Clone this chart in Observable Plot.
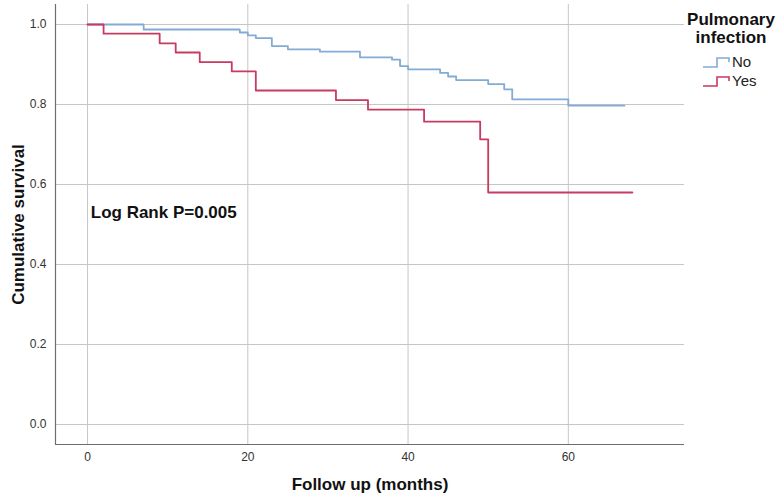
<!DOCTYPE html>
<html>
<head>
<meta charset="utf-8">
<script src="https://cdn.jsdelivr.net/npm/d3@7"></script>
<script src="https://cdn.jsdelivr.net/npm/@observablehq/plot@0.6"></script>
<style>
  html, body { margin: 0; padding: 0; background: #fff; }
  #wrap { position: relative; width: 777px; height: 501px; font-family: "Liberation Sans", Arial, sans-serif; }
  #legend { position: absolute; left: 0; top: 0; }
</style>
</head>
<body>
<div id="wrap"></div>
<script>
// Kaplan-Meier steps (months, cumulative survival)
const monthsNo = [0, 7, 19, 20, 21, 23, 25, 29, 34, 38, 39, 40, 44, 45, 46, 50, 52, 53, 60, 67];
const survNo   = [1, 0.9875, 0.98, 0.973, 0.966, 0.946, 0.938, 0.932, 0.918, 0.912, 0.896, 0.888, 0.879, 0.870, 0.861, 0.851, 0.838, 0.813, 0.797, 0.797];
const monthsYes = [0, 2, 9, 11, 14, 18, 21, 31, 35, 42, 49, 50, 68];
const survYes   = [1, 0.977, 0.953, 0.930, 0.906, 0.883, 0.835, 0.811, 0.787, 0.757, 0.713, 0.580, 0.580];
const groups = ["No", "Yes"];
const groupColors = ["#84abd3", "#c73a62"];
const xTicks = [0, 20, 40, 60];
const yTicks = [0, 0.2, 0.4, 0.6, 0.8, 1.0];
const xTitle = "Follow up (months)";
const yTitle = "Cumulative survival";
const legendTitle = ["Pulmonary", "infection"];
const annotation = "Log Rank P=0.005";

const data = [
  ...monthsNo.map((m, i) => ({group: "No", month: m, surv: survNo[i]})),
  ...monthsYes.map((m, i) => ({group: "Yes", month: m, surv: survYes[i]}))
];

const xDom = [-4, 74.5];
const yDom = [-0.05, 1.05];

const chart = Plot.plot({
  width: 777,
  height: 501,
  marginLeft: 55,
  marginRight: 93,
  marginTop: 4,
  marginBottom: 57,
  style: {fontFamily: "'Liberation Sans', Arial, sans-serif", fontSize: "12px", background: "#fff"},
  x: {domain: xDom, ticks: xTicks, label: null},
  y: {domain: yDom, ticks: yTicks, label: null},
  color: {domain: groups, range: groupColors},
  marks: [
    Plot.ruleX(xTicks, {y1: yDom[0], y2: yDom[1], stroke: "#c6c6c6", strokeWidth: 1}),
    Plot.ruleY(yTicks, {x1: xDom[0], x2: xDom[1], stroke: "#c6c6c6", strokeWidth: 1}),
    Plot.ruleX([xDom[0]], {y1: yDom[0], y2: yDom[1], stroke: "#6e6e6e", strokeWidth: 1.2}),
    Plot.ruleY([yDom[0]], {x1: xDom[0], x2: xDom[1], stroke: "#6e6e6e", strokeWidth: 1.2}),
    Plot.axisX({ticks: xTicks, tickSize: 0, tickPadding: 8, label: null, color: "#333", fontSize: 12}),
    Plot.axisY({ticks: yTicks, tickSize: 0, tickPadding: 9, tickFormat: d3.format(".1f"), label: null, color: "#333", fontSize: 12}),
    Plot.line(data, {x: "month", y: "surv", z: "group", stroke: "group", curve: "step-after", strokeWidth: 1.8}),
    Plot.text([annotation], {x: 0.4, y: 0.53, text: d => d, textAnchor: "start", fontWeight: "bold", fontSize: 17, fill: "#111"}),
    Plot.text([xTitle], {frameAnchor: "bottom", dy: 45, text: d => d, textAnchor: "middle", fontWeight: "bold", fontSize: 17, fill: "#111"}),
    Plot.text([yTitle], {frameAnchor: "left", dx: -37, rotate: -90, text: d => d, textAnchor: "middle", fontWeight: "bold", fontSize: 17, fill: "#111"})
  ]
});

const wrap = document.getElementById("wrap");
wrap.appendChild(chart);

// Legend (drawn to the right of the plot area)
const ns = "http://www.w3.org/2000/svg";
const lg = document.createElementNS(ns, "svg");
lg.setAttribute("id", "legend");
lg.setAttribute("width", 777);
lg.setAttribute("height", 501);
lg.style.pointerEvents = "none";
legendTitle.forEach((t, i) => {
  const el = document.createElementNS(ns, "text");
  el.setAttribute("x", 731);
  el.setAttribute("y", 25 + i * 18);
  el.setAttribute("text-anchor", "middle");
  el.setAttribute("font-weight", "bold");
  el.setAttribute("font-size", 17);
  el.setAttribute("fill", "#111");
  el.setAttribute("font-family", "'Liberation Sans', Arial, sans-serif");
  el.textContent = t;
  lg.appendChild(el);
});
groups.forEach((g, i) => {
  const y0 = 67 + i * 19;
  const p = document.createElementNS(ns, "path");
  p.setAttribute("d", `M703,${y0}H717V${y0 - 9}H729V${y0 - 5}`);
  p.setAttribute("fill", "none");
  p.setAttribute("stroke", groupColors[i]);
  p.setAttribute("stroke-width", 1.6);
  lg.appendChild(p);
  const el = document.createElementNS(ns, "text");
  el.setAttribute("x", 732);
  el.setAttribute("y", y0 - 0.5);
  el.setAttribute("font-size", 15);
  el.setAttribute("fill", "#222");
  el.setAttribute("font-family", "'Liberation Sans', Arial, sans-serif");
  el.textContent = g;
  lg.appendChild(el);
});
wrap.appendChild(lg);
</script>
</body>
</html>
